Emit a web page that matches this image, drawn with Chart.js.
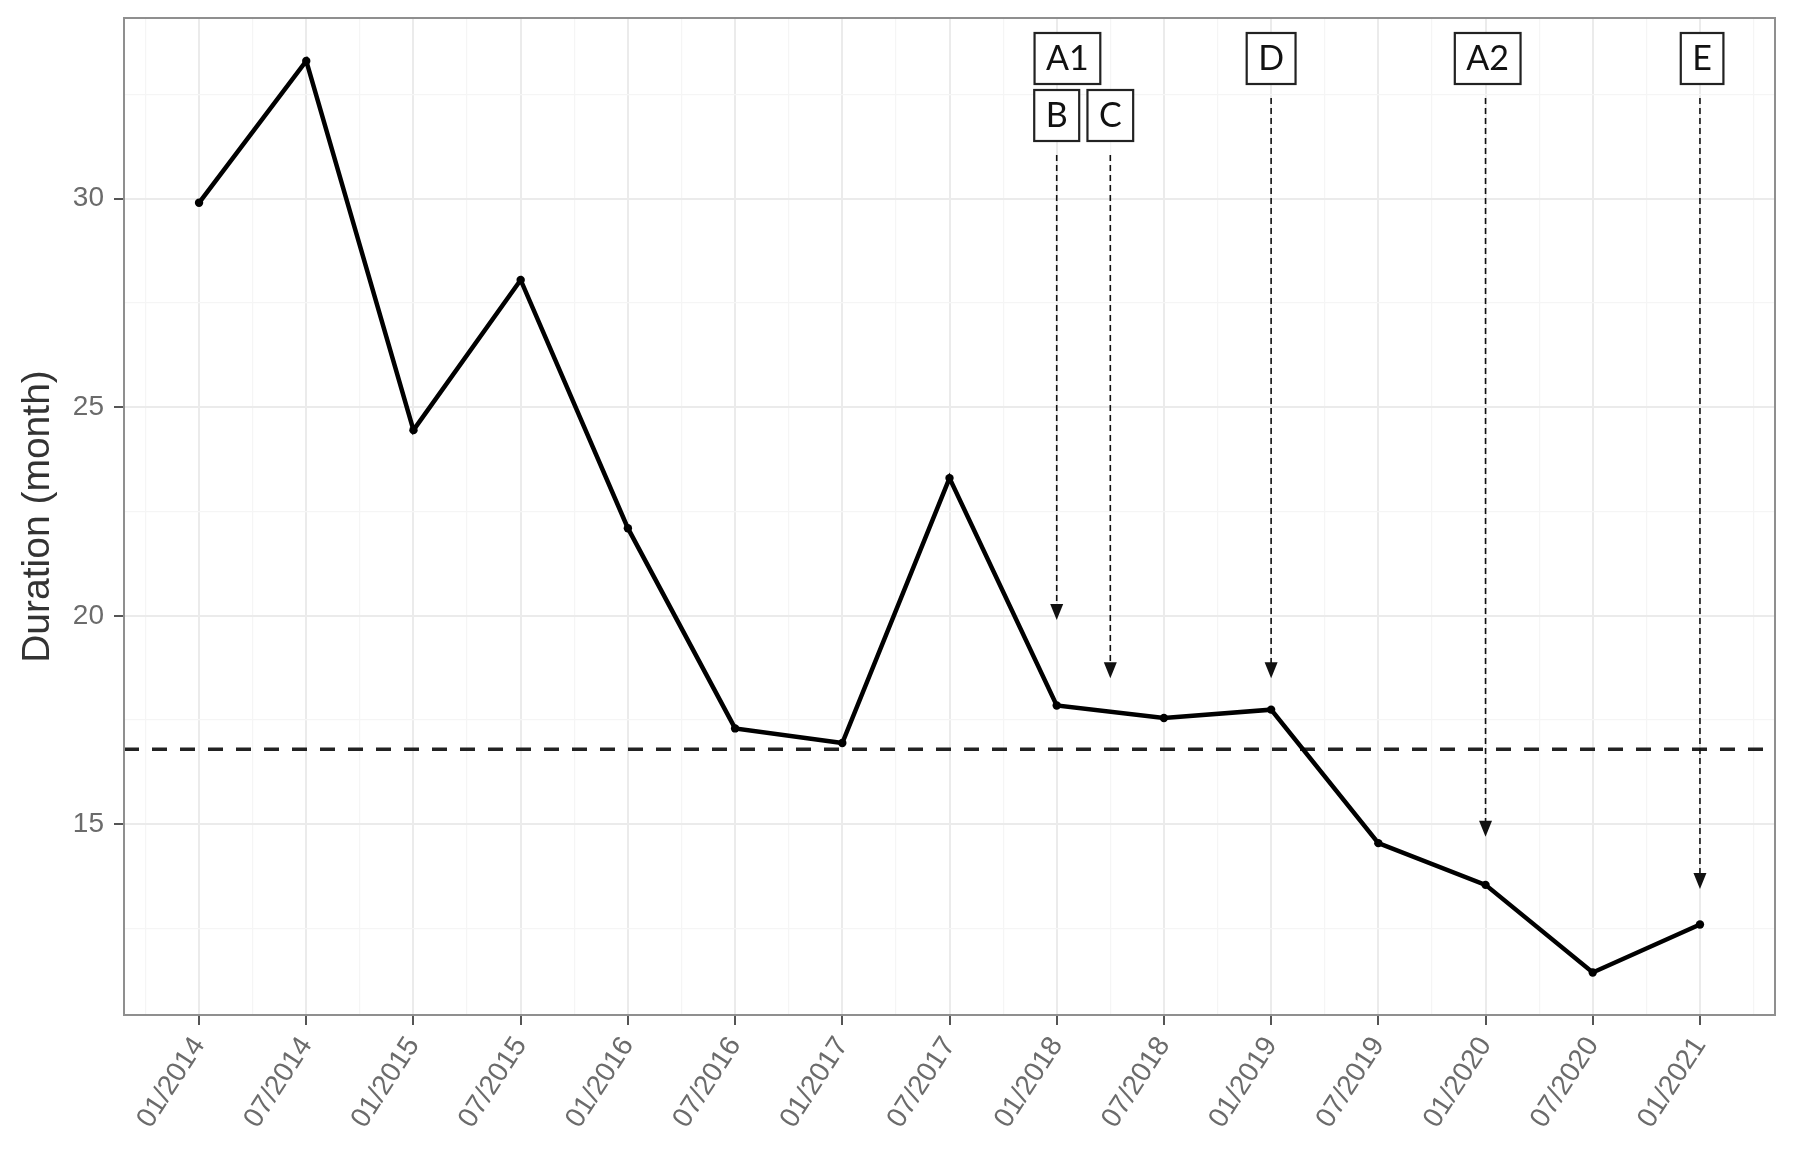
<!DOCTYPE html>
<html>
<head>
<meta charset="utf-8">
<title>Duration (month)</title>
<script src="https://cdn.jsdelivr.net/npm/chart.js@4.4.0/dist/chart.umd.min.js"></script>
<style>
  html, body { margin: 0; padding: 0; background: #fff; }
  #wrap { width: 1800px; height: 1154px; }
</style>
</head>
<body>
<div id="wrap"><canvas id="chart" width="1800" height="1154"></canvas></div>
<script>
// half-year periods, x value = index in this list
const periods = ['01/2014', '07/2014', '01/2015', '07/2015', '01/2016', '07/2016', '01/2017', '07/2017',
  '01/2018', '07/2018', '01/2019', '07/2019', '01/2020', '07/2020', '01/2021'];
const durations = [29.9, 33.3, 24.45, 28.05, 22.1, 17.3, 16.95, 23.3, 17.85, 17.55, 17.75, 14.55, 13.55, 11.45, 12.6];
const yTickLabels = [15, 20, 25, 30];
const referenceValue = 16.8;

// events: label, period index the arrow points at, label position, arrow tip value (null = no own arrow), label row
const eventLabels = ['A1', 'B', 'C', 'D', 'A2', 'E'];
const eventPeriods = [8, 8, 8.5, 10, 12, 14];
const eventLabelX = [8.1, 8, 8.5, 10, 12.02, 14.02];
const eventTips = [null, 19.9, 18.5, 18.5, 14.7, 13.45];
const eventRows = [0, 1, 1, 0, 0, 0];

const rowTops = [15, 72];
const boxHeight = 51;

const refLinePlugin = {
  id: 'refLine',
  beforeDatasetsDraw(chart) {
    const { ctx, chartArea, scales: { y } } = chart;
    const py = y.getPixelForValue(referenceValue);
    ctx.save();
    ctx.strokeStyle = '#222';
    ctx.lineWidth = 3.5;
    ctx.setLineDash([15, 13]);
    ctx.beginPath();
    ctx.moveTo(chartArea.left, py);
    ctx.lineTo(chartArea.right, py);
    ctx.stroke();
    ctx.restore();
  }
};

const eventsPlugin = {
  id: 'events',
  afterDatasetsDraw(chart) {
    const { ctx, chartArea, scales: { x, y } } = chart;
    ctx.save();
    // arrows first, boxes go on top of them
    eventLabels.forEach((label, i) => {
      if (eventTips[i] === null) return;
      const px = x.getPixelForValue(eventPeriods[i]);
      const startY = chartArea.top + rowTops[eventRows[i]] + boxHeight + 14;
      const tipY = y.getPixelForValue(eventTips[i]);
      ctx.strokeStyle = '#111';
      ctx.fillStyle = '#111';
      ctx.lineWidth = 1.6;
      ctx.setLineDash([6, 4]);
      ctx.beginPath();
      ctx.moveTo(px, startY);
      ctx.lineTo(px, tipY - 12);
      ctx.stroke();
      ctx.setLineDash([]);
      ctx.beginPath();
      ctx.moveTo(px - 6.5, tipY - 16);
      ctx.lineTo(px + 6.5, tipY - 16);
      ctx.lineTo(px, tipY);
      ctx.closePath();
      ctx.fill();
    });
    ctx.font = '34px Lato';
    ctx.textAlign = 'center';
    ctx.textBaseline = 'middle';
    eventLabels.forEach((label, i) => {
      const cx = x.getPixelForValue(eventLabelX[i]);
      const top = chartArea.top + rowTops[eventRows[i]];
      const w = ctx.measureText(label).width + 23;
      ctx.fillStyle = '#fff';
      ctx.fillRect(cx - w / 2, top, w, boxHeight);
      ctx.strokeStyle = '#222';
      ctx.lineWidth = 2.2;
      ctx.strokeRect(cx - w / 2, top, w, boxHeight);
      ctx.fillStyle = '#111';
      ctx.fillText(label, cx, top + boxHeight / 2 + 1);
    });
    ctx.restore();
  },
  afterDraw(chart) {
    const { ctx, chartArea } = chart;
    ctx.save();
    ctx.strokeStyle = '#8f8f8f';
    ctx.lineWidth = 2;
    ctx.strokeRect(chartArea.left, chartArea.top, chartArea.right - chartArea.left, chartArea.bottom - chartArea.top);
    ctx.restore();
  }
};

const isMajorX = (v) => Number.isInteger(v);
const isMajorY = (v) => yTickLabels.includes(v);

new Chart(document.getElementById('chart'), {
  type: 'line',
  data: {
    datasets: [{
      data: durations.map((v, i) => ({ x: i, y: v })),
      borderColor: '#000',
      borderWidth: 4.5,
      pointRadius: 4.2,
      pointBackgroundColor: '#000',
      pointBorderWidth: 0,
      tension: 0
    }]
  },
  options: {
    responsive: false,
    animation: false,
    layout: { padding: { top: 18, right: 25, left: 0, bottom: 0 } },
    plugins: { legend: { display: false }, tooltip: { enabled: false } },
    scales: {
      x: {
        type: 'linear',
        min: -0.7,
        max: 14.7,
        afterBuildTicks: (s) => {
          s.ticks = [];
          for (let k = -1; k <= 29; k++) s.ticks.push({ value: k / 2 });
        },
        afterFit: (s) => {
          s.height = 139;
          s.paddingLeft = 0;
          s.paddingRight = 0;
        },
        ticks: {
          autoSkip: false,
          minRotation: 57,
          maxRotation: 57,
          padding: 6,
          color: '#6b6b6b',
          font: { family: 'Liberation Sans', size: 28 },
          callback: (v) => isMajorX(v) ? periods[v] : ''
        },
        grid: {
          color: (c) => isMajorX(c.tick.value) ? '#ebebeb' : '#f5f5f5',
          lineWidth: (c) => isMajorX(c.tick.value) ? 2 : 1.2,
          tickLength: 10,
          tickColor: (c) => isMajorX(c.tick.value) ? '#555' : 'rgba(0,0,0,0)'
        },
        border: { display: false }
      },
      y: {
        min: 10.43,
        max: 34.33,
        afterBuildTicks: (s) => {
          s.ticks = [];
          for (let v = 12.5; v <= 32.5; v += 2.5) s.ticks.push({ value: v });
        },
        afterFit: (s) => {
          s.width = 124;
          s.paddingTop = 0;
          s.paddingBottom = 0;
        },
        ticks: {
          padding: 10,
          color: '#6b6b6b',
          font: { family: 'Liberation Sans', size: 28 },
          callback: (v) => isMajorY(v) ? String(v) : ''
        },
        grid: {
          color: (c) => isMajorY(c.tick.value) ? '#ebebeb' : '#f5f5f5',
          lineWidth: (c) => isMajorY(c.tick.value) ? 2 : 1.2,
          tickLength: 10,
          tickColor: (c) => isMajorY(c.tick.value) ? '#555' : 'rgba(0,0,0,0)'
        },
        border: { display: false },
        title: {
          display: true,
          text: 'Duration (month)',
          color: '#333',
          font: { family: 'Liberation Sans', size: 39 },
          padding: { top: 15, bottom: 0 }
        }
      }
    }
  },
  plugins: [refLinePlugin, eventsPlugin]
});
</script>
</body>
</html>
